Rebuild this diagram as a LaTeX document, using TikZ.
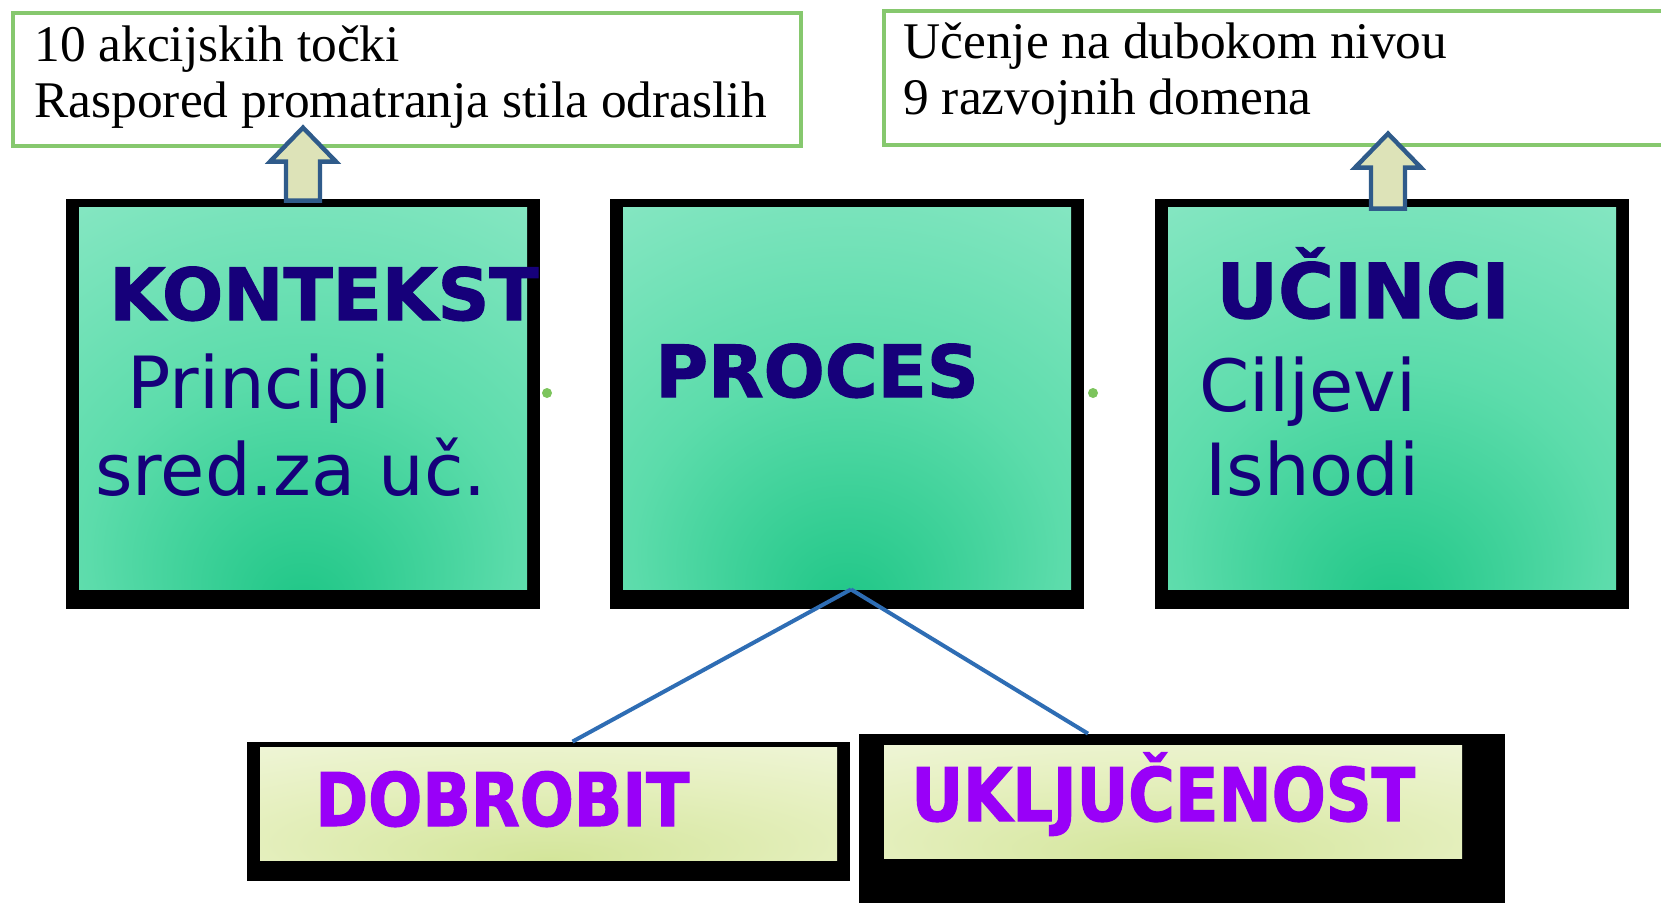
\documentclass[tikz,border=0pt]{standalone}
\usepackage{fontspec}
\usepackage{xcolor}
\usetikzlibrary{calc, fit, positioning}
\setmainfont{Liberation Serif}
\newfontfamily\boxfont[BoldFeatures={FakeBold=1.5}]{DejaVu Sans}
\newfontfamily\narrowfont[FakeStretch=0.86, BoldFeatures={FakeBold=1.5}]{DejaVu Sans}

\definecolor{boxnavy}{HTML}{16007A}
\definecolor{labelpurple}{HTML}{9900F8}
\definecolor{notegreen}{HTML}{86C86E}
\definecolor{stemblue}{HTML}{2E6DB4}
\definecolor{arrowfill}{HTML}{DDE3B8}
\definecolor{arrowline}{HTML}{2F5B8A}
\definecolor{dotgreen}{HTML}{7CC45C}
\definecolor{glowdark}{HTML}{1EC686}
\definecolor{glowmid}{HTML}{5CDCAB}
\definecolor{glowlight}{HTML}{90E9C8}
\definecolor{glowedge}{HTML}{AEF2D8}
\definecolor{paledark}{HTML}{D3E59A}
\definecolor{palemid}{HTML}{E6F0C0}
\definecolor{palelight}{HTML}{F4F8E4}

% soft glow, darkest near the bottom middle
\pgfdeclareradialshading{greenglow}{\pgfpoint{0bp}{-28bp}}{color(0bp)=(glowdark); color(24bp)=(glowmid); color(52bp)=(glowlight); color(85bp)=(glowedge)}
\pgfdeclareradialshading{paleglow}{\pgfpoint{0bp}{-25bp}}{color(0bp)=(paledark); color(28bp)=(palemid); color(55bp)=(palelight); color(80bp)=(palelight)}

% hollow block arrow pointing up, from #1 to #2
\newcommand{\blockup}[2]{%
  \draw[arrowbox] ($(#1)+(-17,0)$) -- ($(#2)+(-17,34)$) -- ($(#2)+(-33,34)$) -- (#2)
    -- ($(#2)+(33,34)$) -- ($(#2)+(17,34)$) -- ($(#1)+(17,0)$) -- cycle;}

\begin{document}
\begin{tikzpicture}[x=0.5pt, y=-0.5pt,
    frame/.style={fill=black, inner sep=0pt},
    glow/.style={shading=greenglow, inner sep=0pt},
    pale/.style={shading=paleglow, inner sep=0pt},
    notebox/.style={draw=notegreen, line width=1.6pt, fill=white, inner sep=0pt},
    notetext/.style={anchor=base west, inner sep=0pt, font=\fontsize{25.7}{28}\selectfont},
    heading/.style={anchor=base west, inner sep=0pt, text=boxnavy, font=\boxfont\bfseries\fontsize{36}{40}\selectfont},
    entry/.style={anchor=base west, inner sep=0pt, text=boxnavy, font=\boxfont\fontsize{36}{40}\selectfont},
    label/.style={anchor=base west, inner sep=0pt, text=labelpurple, font=\narrowfont\bfseries\fontsize{37}{40}\selectfont},
    stem/.style={stemblue, line width=2pt},
    arrowbox/.style={fill=arrowfill, draw=arrowline, line width=2.2pt, line join=miter},
    dot/.style={circle, fill=dotgreen, inner sep=0pt, minimum size=5pt}]

  \useasboundingbox[fill=white] (0,0) rectangle (1661,902);

  % notes on top
  \node[notebox, fit={(13,13) (801,146)}] (leftnote) {};
  \node[notebox, fit={(884,11) (1672,145)}] (rightnote) {};
  \node[notetext] (leftnoteA) at (34,61) {10 akcijskih točki};
  \node[notetext] (leftnoteB) at (34,117) {Raspored promatranja stila odraslih};
  \node[notetext] (rightnoteA) at (903,58) {Učenje na dubokom nivou};
  \node[notetext] (rightnoteB) at (903,114) {9 razvojnih domena};

  % three main boxes
  \node[frame, fit={(66,199) (540,609)}] (kframe) {};
  \node[glow, fit={(79,207) (527,589)}] (kinner) {};
  \node[frame, fit={(610,199) (1084,609)}] (pframe) {};
  \node[glow, fit={(623,207) (1071,589)}] (pinner) {};
  \node[frame, fit={(1155,199) (1629,609)}] (uframe) {};
  \node[glow, fit={(1168,207) (1616,589)}] (uinner) {};

  \node[heading] (ktitle) at (109,320) {KONTEKST};
  \node[entry] (kline1) at (127,408) {Principi};
  \node[entry] (kline2) at (95,495) {sred.za uč.};
  \node[heading] (ptitle) at (655,397) {PROCES};
  \node[heading, font=\boxfont\bfseries\fontsize{38}{40}\selectfont] (utitle) at (1216,318) {UČINCI};
  \node[entry] (uline1) at (1199,411) {Ciljevi};
  \node[entry] (uline2) at (1205,495) {Ishodi};

  \node[dot] (kdot) at (547,393) {};
  \node[dot] (pdot) at (1093,393) {};

  % two boxes below
  \node[frame, fit={(247,742) (850,881)}] (dframe) {};
  \node[pale, fit={(260,747) (837,860)}] (dinner) {};
  \node[frame, fit={(859,734) (1505,905)}] (jframe) {};
  \node[pale, fit={(884,745) (1462,858)}] (jinner) {};
  \node[label] (dtitle) at (315,826) {DOBROBIT};
  \node[label] (jtitle) at (911,821) {UKLJUČENOST};

  \draw[stem] ([xshift=2pt]pinner.south) -- ([xshift=12pt]dframe.north);
  \draw[stem] ([xshift=2pt]pinner.south) -- ([xshift=-47pt]jframe.north);

  % arrows up to the notes
  \coordinate (kbase) at ($(kframe.north)+(0,2)$);
  \coordinate (ktip) at ($(kbase)+(0,-73)$);
  \coordinate (ubase) at ($(uframe.north)+(-4,10)$);
  \coordinate (utip) at ($(ubase)+(0,-75)$);
  \blockup{kbase}{ktip}
  \blockup{ubase}{utip}
\end{tikzpicture}
\end{document}
